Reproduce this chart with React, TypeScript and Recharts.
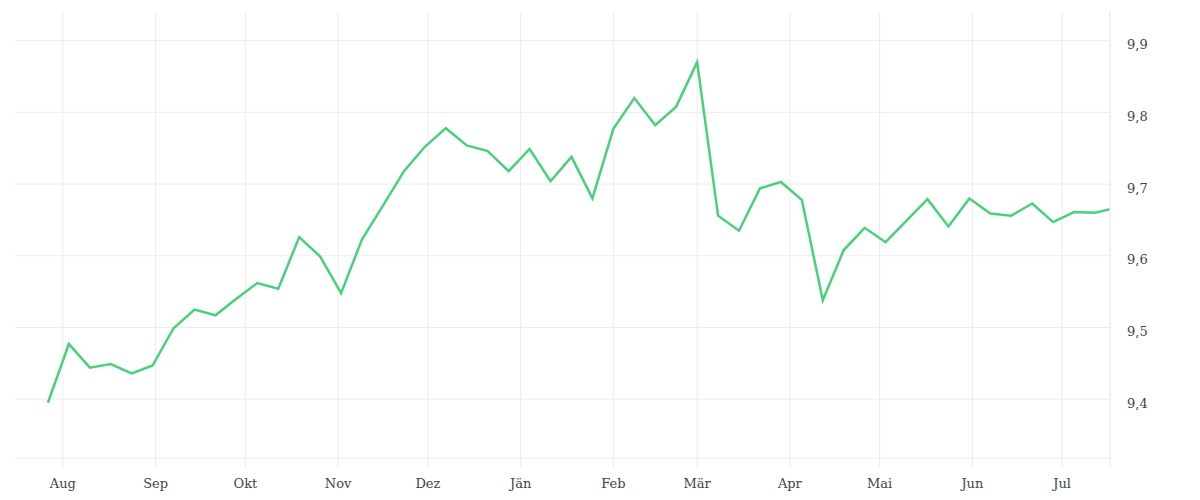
import React from 'react';
import { CartesianGrid, Line, LineChart, XAxis, YAxis } from 'recharts';

// weekly readings, last one is a partial week
const dates = [
  '2022-07-27', '2022-08-03', '2022-08-10', '2022-08-17', '2022-08-24', '2022-08-31',
  '2022-09-07', '2022-09-14', '2022-09-21', '2022-09-28', '2022-10-05', '2022-10-12',
  '2022-10-19', '2022-10-26', '2022-11-02', '2022-11-09', '2022-11-16', '2022-11-23',
  '2022-11-30', '2022-12-07', '2022-12-14', '2022-12-21', '2022-12-28', '2023-01-04',
  '2023-01-11', '2023-01-18', '2023-01-25', '2023-02-01', '2023-02-08', '2023-02-15',
  '2023-02-22', '2023-03-01', '2023-03-08', '2023-03-15', '2023-03-22', '2023-03-29',
  '2023-04-05', '2023-04-12', '2023-04-19', '2023-04-26', '2023-05-03', '2023-05-10',
  '2023-05-17', '2023-05-24', '2023-05-31', '2023-06-07', '2023-06-14', '2023-06-21',
  '2023-06-28', '2023-07-05', '2023-07-12', '2023-07-17',
];

const values = [
  9.395, 9.477, 9.444, 9.449, 9.436, 9.447, 9.499, 9.525, 9.517, 9.54,
  9.562, 9.554, 9.626, 9.599, 9.548, 9.623, 9.67, 9.718, 9.752, 9.778,
  9.754, 9.746, 9.718, 9.749, 9.704, 9.738, 9.68, 9.777, 9.82, 9.782,
  9.808, 9.87, 9.656, 9.635, 9.694, 9.703, 9.678, 9.538, 9.608, 9.639,
  9.619, 9.649, 9.679, 9.641, 9.68, 9.659, 9.656, 9.673, 9.647, 9.661,
  9.66, 9.665,
];

const monthTicks = [
  '2022-08-01', '2022-09-01', '2022-10-01', '2022-11-01', '2022-12-01', '2023-01-01',
  '2023-02-01', '2023-03-01', '2023-04-01', '2023-05-01', '2023-06-01', '2023-07-01',
  '2023-07-17',
];
const monthLabels = ['Aug', 'Sep', 'Okt', 'Nov', 'Dez', 'Jän', 'Feb', 'Mär', 'Apr', 'Mai', 'Jun', 'Jul', ''];

const yTicks = [9.4, 9.5, 9.6, 9.7, 9.8, 9.9];

const toTime = (d: string) => Date.parse(d + 'T00:00:00Z');

const data = dates.map((d, i) => ({ t: toTime(d), value: values[i] }));
const xTicks = monthTicks.map(toTime);

const gridColor = '#ececec';
const textStyle = { fontFamily: 'DejaVu Serif', fontSize: 13, fill: '#444' };

export default function App() {
  return (
    <div style={{ width: 1200, height: 500 }}>
      <style>{'body{margin:0}'}</style>
      <LineChart
        width={1200}
        height={500}
        data={data}
        margin={{ top: 12, right: 30, bottom: 12, left: 15 }}
      >
        <CartesianGrid stroke={gridColor} strokeWidth={1} syncWithTicks />
        <XAxis
          dataKey='t'
          type='number'
          scale='time'
          domain={[toTime('2022-07-16'), toTime('2023-07-17')]}
          ticks={xTicks}
          tickFormatter={(v: number) => monthLabels[xTicks.indexOf(v)] ?? ''}
          height={30}
          tickSize={10}
          tickMargin={11}
          stroke={gridColor}
          tick={textStyle}
          interval={0}
          allowDataOverflow
        />
        <YAxis
          orientation='right'
          type='number'
          domain={[9.318, 9.94]}
          ticks={yTicks}
          tickFormatter={(v: number) => v.toFixed(1).replace('.', ',')}
          width={60}
          axisLine={{ stroke: gridColor }}
          tickLine={false}
          tickSize={0}
          tickMargin={17}
          tick={{ ...textStyle, dy: 4 }}
          allowDataOverflow
        />
        <Line
          type='linear'
          dataKey='value'
          stroke='#4ad07c'
          strokeWidth={2.5}
          dot={false}
          isAnimationActive={false}
        />
      </LineChart>
    </div>
  );
}
